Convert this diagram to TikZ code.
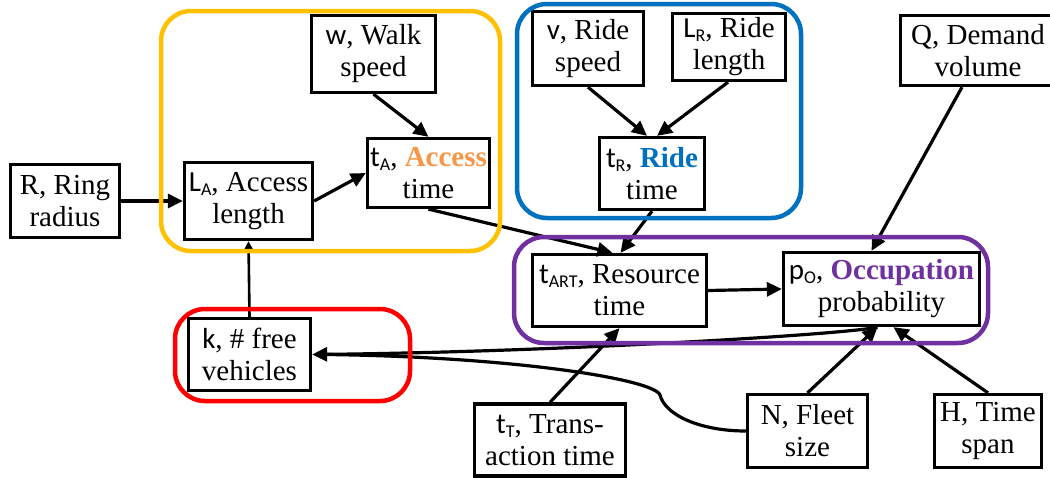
\documentclass[tikz,border=0pt]{standalone}
\usepackage{fontspec}
\setmainfont{Liberation Serif}
\newfontfamily\timesfam{Liberation Serif}
\newfontfamily\calib{Carlito}
\usetikzlibrary{arrows.meta}
\definecolor{grporange}{HTML}{FFC000}
\definecolor{txtorange}{HTML}{F79646}
\definecolor{grpblue}{HTML}{0070C0}
\definecolor{grppurple}{HTML}{7030A0}
\definecolor{grpred}{HTML}{FF0000}
\newcommand{\symb}[2]{{\calib #1\raisebox{-4pt}{\fontsize{18}{18}\selectfont #2}}}
\begin{document}
\begin{tikzpicture}[x=1pt,y=-1pt,
  box/.style={draw, line width=3.3pt, align=center, inner sep=0pt, fill=white,
              font=\timesfam\fontsize{29}{32}\selectfont},
  arr/.style={line width=3.2pt, -{Triangle[length=15pt,width=14pt]}},
  thinarr/.style={line width=2.6pt, -{Triangle[length=11pt,width=11pt]}},
  conn/.style={line width=3.2pt},
  grp/.style={line width=4.5pt, rounded corners=30pt}]
\useasboundingbox (0,0) rectangle (1050,477);

% nodes
\node[box, minimum width=109pt, minimum height=73pt] (R)   at (65,201)    {R, Ring\\radius};
\node[box, minimum width=128pt, minimum height=77pt] (LA)  at (248.5,201) {\symb{L}{A}, Access\\length};
\node[box, minimum width=124pt, minimum height=77pt] (w)   at (373.5,54)  {{\calib w}, Walk\\speed};
\node[box, minimum width=122pt, minimum height=69pt] (tA)  at (428.5,173) {\symb{t}{A}, \textbf{\color{txtorange}Access}\\time};
\node[box, minimum width=111pt, minimum height=74pt] (v)   at (588,48.5)  {{\calib v}, Ride\\speed};
\node[box, minimum width=113pt, minimum height=67pt] (LR)  at (729,47)    {\symb{L}{R}, Ride\\length};
\node[box, minimum width=105pt, minimum height=72pt] (tR)  at (652,173.5) {\symb{t}{R}, \textbf{\color{grpblue}Ride}\\time};
\node[box, minimum width=155pt, minimum height=70pt] (Q)   at (978,50.5)  {Q, Demand\\volume};
\node[box, minimum width=174pt, minimum height=72pt] (tART) at (619.5,290.5) {\symb{t}{ART}, Resource\\time};
\node[box, minimum width=196pt, minimum height=73pt] (pO)  at (881.5,289) {\symb{p}{O}, \textbf{\color{grppurple}Occupation}\\probability};
\node[box, minimum width=122pt, minimum height=72pt] (k)   at (249.5,354.5) {{\calib k}, \# free\\vehicles};
\node[box, minimum width=151pt, minimum height=72pt] (tT)  at (550,440)  {\symb{t}{T}, Trans-\\action time};
\node[box, minimum width=120pt, minimum height=73pt] (N)   at (807.5,431) {N, Fleet\\size};
\node[box, minimum width=107pt, minimum height=73pt] (H)   at (988,431)   {H, Time\\span};

% connectors
\draw[arr] (R) -- (LA);
\draw[arr] (LA.east) -- (tA.west);
\draw[arr] (w.south) -- (tA.north);
\draw[arr] (tA.south) -- ([xshift=-7pt]tART.north);
\draw[arr] (v.south) -- ([xshift=-5pt]tR.north);
\draw[arr] ([xshift=-1pt]LR.south) -- ([xshift=5pt]tR.north);
\draw[arr] (tR.south) -- ([xshift=1pt]tART.north);
\draw[arr] ([xshift=-16pt]Q.south) -- ([xshift=-10pt]pO.north);
\draw[arr] (tART.east) -- (pO.west);
\draw[arr] (tT.north) -- (tART.south);
\draw[arr] (N.north) -- ([xshift=-4pt]pO.south);
\draw[arr] (H.north) -- ([xshift=12pt]pO.south);
\draw[thinarr] (k.north) -- (LA.south);
\draw[arr] ([xshift=-4pt]pO.south) .. controls (840,335) and (550,352) .. (k.east);
\draw[conn] (N.west) .. controls (700,431) and (665,415) .. (660,395)
            .. controls (655,380) and (520,357) .. ([xshift=14pt]k.east);

% groups
\draw[grp, grporange] (161,11) rectangle (500,251);
\draw[grp, grpblue]   (517,4) rectangle (801,218);
\draw[grp, grppurple] (514,237) rectangle (988,343);
\draw[grp, grpred]    (175,309) rectangle (410,401);
\end{tikzpicture}
\end{document}
